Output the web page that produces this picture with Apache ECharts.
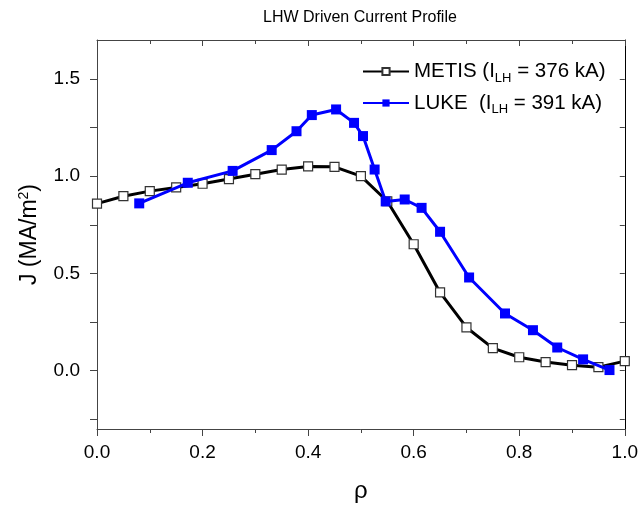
<!DOCTYPE html>
<html>
<head>
<meta charset="utf-8">
<script src="https://cdn.jsdelivr.net/npm/echarts@6/dist/echarts.min.js"></script>
<style>
  html, body { margin: 0; padding: 0; background: #fff; }
  #chart { width: 641px; height: 508px; }
</style>
</head>
<body>
<div id="chart"></div>
<script>
// Normalised radius and driven current density (MA/m^2)
var rhoMetis = [0, 0.05, 0.1, 0.15, 0.2, 0.25, 0.3, 0.35, 0.4, 0.45, 0.5,
                0.55, 0.6, 0.65, 0.7, 0.75, 0.8, 0.85, 0.9, 0.95, 1.0];
var jMetis = [0.859, 0.897, 0.923, 0.942, 0.961, 0.985, 1.010, 1.034, 1.050, 1.048, 1.0,
              0.871, 0.650, 0.402, 0.222, 0.116, 0.069, 0.044, 0.028, 0.018, 0.049];

var rhoLuke = [0.080, 0.172, 0.257, 0.331, 0.378, 0.407, 0.453, 0.487, 0.504, 0.526,
               0.547, 0.583, 0.615, 0.650, 0.705, 0.773, 0.826, 0.872, 0.921, 0.971];
var jLuke = [0.860, 0.966, 1.027, 1.134, 1.231, 1.314, 1.343, 1.274, 1.206, 1.034,
             0.870, 0.880, 0.837, 0.714, 0.479, 0.294, 0.208, 0.119, 0.058, 0.003];

var yLabelValues = [0, 0.5, 1.0, 1.5];
var yTickValues = [-0.25, 0, 0.25, 0.5, 0.75, 1.0, 1.25, 1.5];

var legendMetis = 'METIS';
var legendLuke = 'LUKE';
var legendText = {
  'METIS': '{t|METIS (I}{s|LH}{t| = 376 kA)}',
  'LUKE': '{t|LUKE  (I}{s|LH}{t| = 391 kA)}'
};

function pairs(xs, ys) {
  return xs.map(function (x, i) { return [x, ys[i]]; });
}

var FONT = '"Liberation Sans", Arial, sans-serif';
var AXIS_COLOR = '#444';

var chart = echarts.init(document.getElementById('chart'), null, { renderer: 'canvas' });

chart.setOption({
  animation: false,
  backgroundColor: '#fff',
  textStyle: { fontFamily: FONT },
  title: {
    text: 'LHW Driven Current Profile',
    left: 258,
    top: 5,
    textStyle: { fontFamily: FONT, fontSize: 16, fontWeight: 'normal', color: '#000' }
  },
  grid: { left: 97, right: 14, top: 40, bottom: 79 },
  legend: {
    orient: 'vertical',
    left: 362,
    top: 61,
    padding: 0,
    itemWidth: 46,
    itemHeight: 9,
    itemGap: 8,
    data: [legendMetis, legendLuke],
    formatter: function (name) { return legendText[name]; },
    textStyle: {
      fontFamily: FONT,
      rich: {
        t: { fontSize: 20.5, color: '#000', fontFamily: FONT },
        s: { fontSize: 13, color: '#000', fontFamily: FONT, padding: [13, 0, 0, 0] }
      }
    }
  },
  xAxis: [
    {
      type: 'value', min: 0, max: 1, interval: 0.2, position: 'bottom',
      name: 'ρ', nameLocation: 'middle', nameGap: 50,
      nameTextStyle: { fontSize: 24, color: '#000', fontFamily: FONT },
      axisLine: { show: true, onZero: false, lineStyle: { color: AXIS_COLOR, width: 1 } },
      axisTick: { show: true, inside: false, length: 7, lineStyle: { color: AXIS_COLOR } },
      minorTick: { show: true, splitNumber: 2, length: 4, lineStyle: { color: AXIS_COLOR } },
      axisLabel: {
        fontSize: 19, color: '#000', margin: 14, fontFamily: FONT,
        formatter: function (v) { return v.toFixed(1); }
      },
      splitLine: { show: false }, minorSplitLine: { show: false }
    },
    {
      type: 'value', min: 0, max: 1, interval: 0.2, position: 'top',
      axisLine: { show: true, onZero: false, lineStyle: { color: AXIS_COLOR, width: 1 } },
      axisTick: { show: true, inside: true, length: 6, lineStyle: { color: AXIS_COLOR } },
      minorTick: { show: true, splitNumber: 2, length: 4, lineStyle: { color: AXIS_COLOR } },
      axisLabel: { show: false },
      splitLine: { show: false }, minorSplitLine: { show: false }
    }
  ],
  yAxis: [
    {
      type: 'value', min: -0.3, max: 1.7, position: 'left',
      name: 'J (MA/m{sup|2})', nameLocation: 'middle', nameGap: 55, nameRotate: 90,
      nameTextStyle: {
        fontSize: 23, color: '#000', fontFamily: FONT,
        rich: { sup: { fontSize: 14, color: '#000', fontFamily: FONT, padding: [0, 0, 11, 0] } }
      },
      axisLine: { show: true, onZero: false, lineStyle: { color: AXIS_COLOR, width: 1 } },
      axisTick: { show: true, inside: false, length: 7, customValues: yTickValues, lineStyle: { color: AXIS_COLOR } },
      axisLabel: {
        fontSize: 19, color: '#000', margin: 17, fontFamily: FONT,
        customValues: yLabelValues,
        formatter: function (v) { return v.toFixed(1); }
      },
      splitLine: { show: false }
    },
    {
      type: 'value', min: -0.3, max: 1.7, position: 'right',
      axisLine: { show: true, onZero: false, lineStyle: { color: '#000', width: 1 } },
      axisTick: { show: true, inside: true, length: 5, customValues: yTickValues, lineStyle: { color: AXIS_COLOR } },
      axisLabel: { show: false },
      splitLine: { show: false }
    }
  ],
  series: [
    {
      name: legendMetis,
      type: 'line',
      data: pairs(rhoMetis, jMetis),
      symbol: 'rect',
      symbolSize: 9,
      showAllSymbol: true,
      lineStyle: { color: '#000', width: 3 },
      itemStyle: { color: '#fff', borderColor: '#333', borderWidth: 1.2 },
      z: 3
    },
    {
      name: legendLuke,
      type: 'line',
      data: pairs(rhoLuke, jLuke),
      symbol: 'rect',
      symbolSize: 10,
      showAllSymbol: true,
      lineStyle: { color: '#0000ff', width: 3 },
      itemStyle: { color: '#0000ff', borderColor: '#0000ff', borderWidth: 0 },
      z: 4
    }
  ]
});
</script>
</body>
</html>
